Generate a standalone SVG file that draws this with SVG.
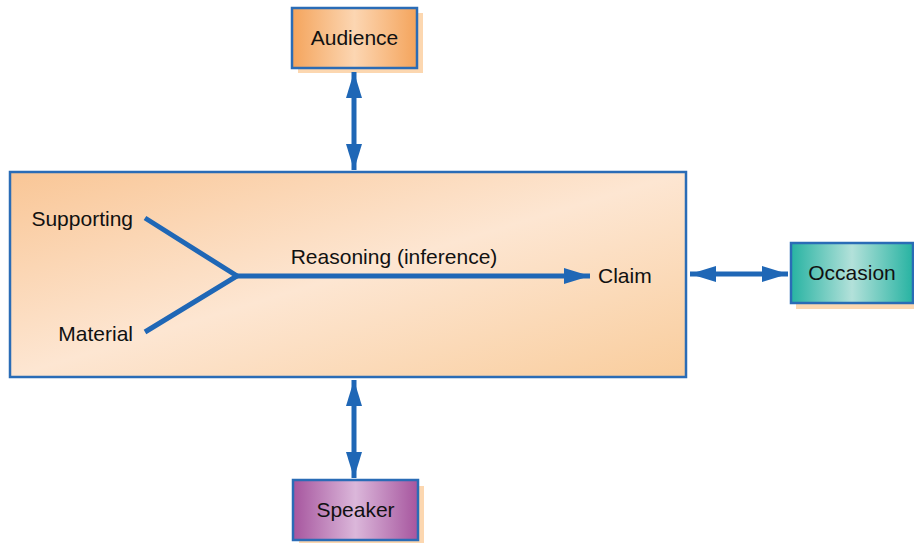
<svg xmlns="http://www.w3.org/2000/svg" width="914" height="543" viewBox="0 0 914 543">
  <defs>
    <linearGradient id="gAud" x1="0" y1="0" x2="1" y2="0">
      <stop offset="0" stop-color="#f4a45c"/>
      <stop offset="0.5" stop-color="#fcd6b2"/>
      <stop offset="1" stop-color="#f4a45c"/>
    </linearGradient>
    <linearGradient id="gOcc" x1="0" y1="0" x2="1" y2="0">
      <stop offset="0" stop-color="#27b3a2"/>
      <stop offset="0.5" stop-color="#b3e1da"/>
      <stop offset="1" stop-color="#27b3a2"/>
    </linearGradient>
    <linearGradient id="gSpk" x1="0" y1="0" x2="1" y2="0">
      <stop offset="0" stop-color="#a6559e"/>
      <stop offset="0.5" stop-color="#dbb7da"/>
      <stop offset="1" stop-color="#a6559e"/>
    </linearGradient>
    <linearGradient id="gMain" x1="0" y1="0" x2="1" y2="1">
      <stop offset="0" stop-color="#f9c696"/>
      <stop offset="0.5" stop-color="#fde6d2"/>
      <stop offset="1" stop-color="#f9cd9d"/>
    </linearGradient>
    <marker id="head" viewBox="0 0 26 16" refX="26" refY="8" markerWidth="26" markerHeight="16" markerUnits="userSpaceOnUse" orient="auto-start-reverse">
      <path d="M0,0 L26,8 L0,16 Z" fill="#1f67b6"/>
    </marker>
    <style>
      .box { stroke: #2a6cb6; stroke-width: 2.5; }
      .shadow { fill: #fcd7b0; }
      .lbl { font-family: "Liberation Sans", Arial, sans-serif; font-size: 21px; fill: #111; }
      .conn { stroke: #1f67b6; stroke-width: 5; fill: none; }
    </style>
  </defs>

  <rect width="914" height="543" fill="#fff"/>

  <!-- central argument box -->
  <g id="argument">
    <rect class="box" x="10" y="172" width="676" height="205" fill="url(#gMain)"/>
    <text class="lbl" x="133" y="226" text-anchor="end">Supporting</text>
    <text class="lbl" x="133" y="341" text-anchor="end">Material</text>
    <text class="lbl" x="394" y="264" text-anchor="middle">Reasoning (inference)</text>
    <text class="lbl" x="598" y="283">Claim</text>
  </g>

  <g id="audience">
    <rect class="shadow" x="298" y="13" width="125" height="60"/>
    <rect class="box" x="292" y="8" width="125" height="60" fill="url(#gAud)"/>
    <text class="lbl" x="354.5" y="45" text-anchor="middle">Audience</text>
  </g>

  <g id="occasion">
    <rect class="shadow" x="796" y="249" width="118" height="60"/>
    <rect class="box" x="791" y="243" width="122" height="60" fill="url(#gOcc)"/>
    <text class="lbl" x="852" y="280" text-anchor="middle">Occasion</text>
  </g>

  <g id="speaker">
    <rect class="shadow" x="299" y="486" width="125" height="57"/>
    <rect class="box" x="293" y="480" width="125" height="60" fill="url(#gSpk)"/>
    <text class="lbl" x="355.5" y="517" text-anchor="middle">Speaker</text>
  </g>

  <g id="connectors">
    <path class="conn" d="M145,218 L237,276 L145,332"/>
    <line class="conn" x1="237" y1="276" x2="590" y2="276" marker-end="url(#head)"/>
    <line class="conn" x1="354" y1="72" x2="354" y2="170" marker-start="url(#head)" marker-end="url(#head)"/>
    <line class="conn" x1="354" y1="380" x2="354" y2="478" marker-start="url(#head)" marker-end="url(#head)"/>
    <line class="conn" x1="690" y1="274" x2="788" y2="274" marker-start="url(#head)" marker-end="url(#head)"/>
  </g>
</svg>
